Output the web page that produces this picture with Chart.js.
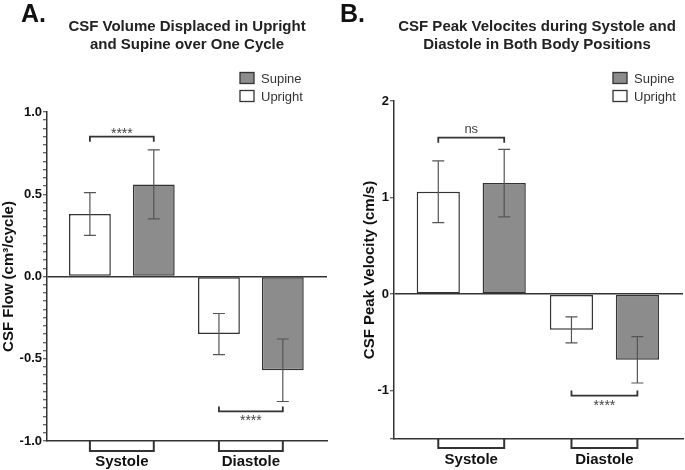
<!DOCTYPE html>
<html lang="en">
<head>
<meta charset="UTF-8">
<title>CSF Volume and Peak Velocity</title>
<script src="https://cdn.jsdelivr.net/npm/chart.js"></script>
<style>
  body { margin: 0; background: #fff; font-family: "Liberation Sans", Arial, sans-serif; }
  #wrap { position: relative; width: 685px; height: 470px; overflow: hidden; }
  canvas { position: absolute; top: 0; }
  .letter { position: absolute; top: 1px; font-weight: bold; font-size: 25px; line-height: 24px; color: #111; }
  .title { position: absolute; top: 17px; font-weight: bold; font-size: 15px; line-height: 18px;
           text-align: center; color: #222; white-space: nowrap; transform: translateX(-50%); }
</style>
</head>
<body>
<div id="wrap">
  <canvas id="volChart" width="340" height="470" style="left:0"></canvas>
  <canvas id="velChart" width="345" height="470" style="left:340px"></canvas>
  <div class="letter" style="left:21px">A.</div>
  <div class="letter" style="left:340px">B.</div>
  <div class="title" style="left:187px">CSF Volume Displaced in Upright<br>and Supine over One Cycle</div>
  <div class="title" style="left:537px">CSF Peak Velocites during Systole and<br>Diastole in Both Body Positions</div>
</div>

<script>
  // categories + series
  const categories = ['Systole', 'Diastole'];
  const seriesNames = ['Upright', 'Supine'];

  // A. volume displaced (cm3/cycle), mean and error
  const volUpright = [0.38, -0.35];
  const volUprightErr = [0.13, 0.125];
  const volSupine = [0.56, -0.57];
  const volSupineErr = [0.21, 0.19];
  const volSig = ['****', '****'];

  // B. peak velocity (cm/s)
  const velUpright = [1.06, -0.37];
  const velUprightErr = [0.32, 0.135];
  const velSupine = [1.15, -0.68];
  const velSupineErr = [0.35, 0.24];
  const velSig = ['ns', '****'];

  const volTicks = [-1, -0.5, 0, 0.5, 1];
  const velTicks = [-1, 0, 1, 2];

  Chart.defaults.font.family = '"Liberation Sans", Arial, sans-serif';
  Chart.defaults.color = '#111';

  const toPoints = vals => vals.map((v, i) => ({ x: i, y: v }));

  // error bars, significance brackets, axis brackets and legend
  const extras = {
    id: 'extras',
    afterDatasetsDraw(chart, args, opts) {
      const ctx = chart.ctx;
      const yScale = chart.scales.y;
      const area = chart.chartArea;
      const m0 = chart.getDatasetMeta(0);
      const m1 = chart.getDatasetMeta(1);
      ctx.save();

      // error bars
      chart.data.datasets.forEach((ds, d) => {
        chart.getDatasetMeta(d).data.forEach((bar, i) => {
          const v = ds.data[i].y, e = ds.err[i];
          const top = yScale.getPixelForValue(v + e);
          const bot = yScale.getPixelForValue(v - e);
          ctx.strokeStyle = '#555';
          ctx.lineWidth = 1.2;
          ctx.beginPath();
          ctx.moveTo(bar.x, top); ctx.lineTo(bar.x, bot);
          ctx.moveTo(bar.x - 6, top); ctx.lineTo(bar.x + 6, top);
          ctx.moveTo(bar.x - 6, bot); ctx.lineTo(bar.x + 6, bot);
          ctx.stroke();
        });
      });

      // significance brackets
      opts.sig.forEach((label, i) => {
        const x0 = m0.data[i].x, x1 = m1.data[i].x;
        const yv = opts.bracketY[i];
        const by = yScale.getPixelForValue(yv);
        const leg = yv > 0 ? 5 : -5;
        ctx.strokeStyle = '#333';
        ctx.lineWidth = 1.8;
        ctx.beginPath();
        ctx.moveTo(x0, by + leg); ctx.lineTo(x0, by); ctx.lineTo(x1, by); ctx.lineTo(x1, by + leg);
        ctx.stroke();
        ctx.fillStyle = '#444';
        ctx.textAlign = 'center';
        ctx.textBaseline = 'alphabetic';
        const star = label.indexOf('*') >= 0;
        ctx.font = (star ? '14px' : '13px') + ' "Liberation Sans", Arial, sans-serif';
        let ty;
        if (yv > 0) ty = star ? by + 1 : by - 5;
        else ty = star ? by + 14 : by + 16;
        ctx.fillText(label, (x0 + x1) / 2, ty);
      });

      // grouping brackets under the x axis
      categories.forEach((c, i) => {
        const x0 = m0.data[i].x, x1 = m1.data[i].x;
        ctx.strokeStyle = '#333';
        ctx.lineWidth = 2;
        ctx.beginPath();
        ctx.moveTo(x0, area.bottom); ctx.lineTo(x0, area.bottom + opts.axisBracket);
        ctx.lineTo(x1, area.bottom + opts.axisBracket); ctx.lineTo(x1, area.bottom);
        ctx.stroke();
      });

      // legend (Supine on top)
      const items = chart.data.datasets.slice().reverse();
      ctx.font = '13px "Liberation Sans", Arial, sans-serif';
      ctx.textAlign = 'left';
      ctx.textBaseline = 'middle';
      items.forEach((ds, k) => {
        const cy = opts.legendY + k * 18;
        ctx.fillStyle = ds.backgroundColor;
        ctx.fillRect(opts.legendX, cy - 5.5, 14, 11);
        ctx.strokeStyle = '#333';
        ctx.lineWidth = 1.3;
        ctx.strokeRect(opts.legendX, cy - 5.5, 14, 11);
        ctx.fillStyle = '#333';
        ctx.fillText(ds.label, opts.legendX + 21, cy + 1);
      });
      ctx.restore();
    }
  };

  function makeChart(id, p) {
    return new Chart(document.getElementById(id), {
      type: 'bar',
      data: {
        datasets: [
          { label: seriesNames[0], data: toPoints(p.upright), err: p.uprightErr,
            backgroundColor: '#ffffff', borderColor: '#333', borderWidth: 1.5, borderSkipped: false },
          { label: seriesNames[1], data: toPoints(p.supine), err: p.supineErr,
            backgroundColor: '#8c8c8c', borderColor: '#333', borderWidth: 1.5, borderSkipped: false }
        ]
      },
      options: {
        responsive: false,
        animation: false,
        layout: { padding: { top: p.top, right: p.right, bottom: 0, left: 0 } },
        datasets: { bar: { categoryPercentage: 0.99, barPercentage: 0.655 } },
        plugins: {
          legend: { display: false },
          tooltip: { enabled: false },
          extras: { sig: p.sig, bracketY: p.bracketY, axisBracket: p.axisBracket,
                    legendX: p.legendX, legendY: 78 }
        },
        scales: {
          x: {
            type: 'linear',
            offset: false,
            min: -0.58,
            max: 1.59,
            afterBuildTicks: s => { s.ticks = categories.map((c, i) => ({ value: i })); },
            afterFit: s => { s.height = p.xHeight; },
            grid: { display: false, drawTicks: false, offset: false },
            border: { display: true, color: '#333', width: 1.5 },
            ticks: {
              autoSkip: false, maxRotation: 0, padding: 12, color: '#111',
              font: { size: 15, weight: 'bold' },
              callback: v => categories[v] ?? ''
            }
          },
          y: {
            min: p.min,
            max: p.max,
            afterFit: s => { s.width = p.yWidth; },
            border: { display: true, color: '#333', width: 1.5 },
            grid: {
              drawOnChartArea: true,
              color: c => (c.tick && Math.abs(c.tick.value) < 1e-9) ? '#333' : 'rgba(0,0,0,0)',
              lineWidth: 1.5,
              tickLength: 4,
              tickColor: '#333',
              tickWidth: 1
            },
            ticks: {
              stepSize: p.step,
              autoSkip: false,
              padding: 1,
              color: '#111',
              font: { size: 13, weight: 'bold' },
              callback: v => p.labels.some(t => Math.abs(t - v) < 1e-9) ? p.fmt(v) : ''
            },
            title: {
              display: true, text: p.yTitle, color: '#111',
              font: { size: 15, weight: 'bold' },
              padding: { top: p.yTitlePad, bottom: 0 }
            }
          }
        }
      },
      plugins: [extras]
    });
  }

  makeChart('volChart', {
    upright: volUpright, uprightErr: volUprightErr,
    supine: volSupine, supineErr: volSupineErr,
    sig: volSig, bracketY: [0.85, -0.82], axisBracket: 10,
    min: -1, max: 1, step: 0.05, labels: volTicks, fmt: v => v.toFixed(1),
    yTitle: 'CSF Flow (cm³/cycle)', yTitlePad: 0, yWidth: 47,
    top: 112, right: 13, xHeight: 29, legendX: 240
  });

  makeChart('velChart', {
    upright: velUpright, uprightErr: velUprightErr,
    supine: velSupine, supineErr: velSupineErr,
    sig: velSig, bracketY: [1.62, -1.05], axisBracket: 9,
    min: -1.5, max: 2, step: 1, labels: velTicks, fmt: v => String(v),
    yTitle: 'CSF Peak Velocity (cm/s)', yTitlePad: 21, yWidth: 54,
    top: 101, right: 2, xHeight: 31, legendX: 273
  });
</script>
</body>
</html>
